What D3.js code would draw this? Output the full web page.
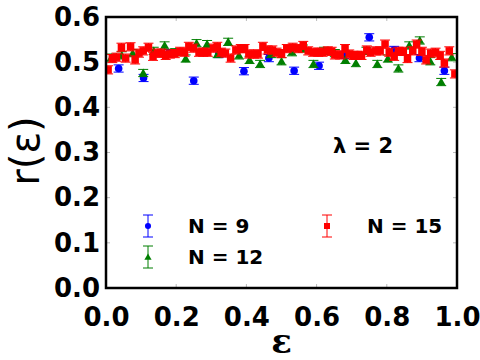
<!DOCTYPE html>
<html>
<head>
<meta charset="utf-8">
<script src="https://cdn.jsdelivr.net/npm/d3@7"></script>
<style>
  body { margin: 0; background: #fff; }
  svg { display: block; }
</style>
</head>
<body>
<div id="chart"></div>
<script>
'use strict';

// N = 9 (blue circles)
const epsN9 = [0.036, 0.107, 0.179, 0.250, 0.321, 0.393, 0.464, 0.536, 0.607, 0.679, 0.750, 0.821, 0.893, 0.964];
const rN9   = [0.486, 0.465, 0.520, 0.459, 0.518, 0.480, 0.509, 0.481, 0.492, 0.516, 0.555, 0.527, 0.509, 0.481];

// N = 12 (green triangles)
const epsN12 = [0.015, 0.045, 0.076, 0.106, 0.136, 0.167, 0.197, 0.227, 0.258, 0.288, 0.318,
                0.348, 0.379, 0.409, 0.439, 0.470, 0.500, 0.530, 0.561, 0.591, 0.621, 0.652,
                0.682, 0.712, 0.742, 0.773, 0.803, 0.833, 0.864, 0.894, 0.924, 0.955, 0.985];
const rN12   = [0.510, 0.515, 0.520, 0.476, 0.525, 0.537, 0.522, 0.508, 0.542, 0.540, 0.518,
                0.545, 0.515, 0.505, 0.496, 0.518, 0.502, 0.522, 0.530, 0.496, 0.525, 0.520,
                0.505, 0.498, 0.525, 0.496, 0.508, 0.486, 0.537, 0.548, 0.502, 0.456, 0.511];

// N = 15 (red squares)
const epsN15 = [0.006, 0.018, 0.030, 0.044, 0.056, 0.070, 0.083, 0.094, 0.106, 0.121,
                0.134, 0.146, 0.158, 0.170, 0.182, 0.196, 0.211, 0.224, 0.236, 0.249,
                0.265, 0.277, 0.290, 0.306, 0.317, 0.328, 0.340, 0.355, 0.370, 0.384,
                0.395, 0.407, 0.422, 0.433, 0.447, 0.460, 0.474, 0.486, 0.500, 0.515,
                0.532, 0.548, 0.562, 0.576, 0.590, 0.605, 0.617, 0.632, 0.643, 0.652,
                0.667, 0.681, 0.693, 0.705, 0.716, 0.728, 0.743, 0.754, 0.769, 0.781,
                0.795, 0.807, 0.821, 0.833, 0.847, 0.859, 0.874, 0.885, 0.900, 0.912,
                0.925, 0.939, 0.952, 0.964, 0.978, 0.994];
const rN15   = [0.483, 0.508, 0.511, 0.533, 0.509, 0.534, 0.505, 0.520, 0.525, 0.533,
                0.513, 0.520, 0.520, 0.515, 0.518, 0.519, 0.524, 0.522, 0.535, 0.531,
                0.522, 0.522, 0.522, 0.531, 0.535, 0.522, 0.520, 0.509, 0.527, 0.530,
                0.530, 0.518, 0.518, 0.518, 0.535, 0.527, 0.527, 0.522, 0.519, 0.530,
                0.533, 0.530, 0.537, 0.525, 0.522, 0.522, 0.522, 0.525, 0.524, 0.516,
                0.516, 0.530, 0.518, 0.515, 0.515, 0.515, 0.527, 0.522, 0.525, 0.525,
                0.540, 0.522, 0.513, 0.524, 0.524, 0.508, 0.525, 0.540, 0.524, 0.505,
                0.520, 0.522, 0.515, 0.498, 0.525, 0.474];

const errN9 = 0.008;
const errN12 = 0.008;
const errN15 = 0.009;

const xTicks = [0.0, 0.2, 0.4, 0.6, 0.8, 1.0];
const yTicks = [0.0, 0.1, 0.2, 0.3, 0.4, 0.5, 0.6];
const seriesLabels = ["N = 9", "N = 12", "N = 15"];
const annotation = "λ = 2";

const width = 480, height = 360;
const margin = { top: 17, right: 23, bottom: 72, left: 106 };
const innerW = width - margin.left - margin.right;
const innerH = height - margin.top - margin.bottom;

const svg = d3.select("#chart").append("svg")
    .attr("width", width)
    .attr("height", height);

const chart = svg.append("g")
    .attr("transform", `translate(${margin.left},${margin.top})`);

const x = d3.scaleLinear().domain([0, 1]).range([0, innerW]);
const y = d3.scaleLinear().domain([0, 0.6]).range([innerH, 0]);

const font = "'DejaVu Sans', sans-serif";

// tick labels
chart.append("g")
    .attr("transform", `translate(0,${innerH})`)
    .call(d3.axisBottom(x).tickValues(xTicks).tickFormat(d3.format(".1f")).tickSize(0).tickPadding(20))
    .call(g => g.select(".domain").remove())
    .selectAll("text")
    .attr("font-family", font).attr("font-weight", "bold").attr("font-size", 26).attr("fill", "#000");

chart.append("g")
    .call(d3.axisLeft(y).tickValues(yTicks).tickFormat(d3.format(".1f")).tickSize(0).tickPadding(6))
    .call(g => g.select(".domain").remove())
    .selectAll("text")
    .attr("font-family", font).attr("font-weight", "bold").attr("font-size", 26).attr("fill", "#000");

// small grey inside ticks
const tickLayer = chart.append("g").attr("stroke", "#bbbbbb").attr("stroke-width", 1);
xTicks.forEach(t => {
    tickLayer.append("line").attr("x1", x(t)).attr("x2", x(t)).attr("y1", 0).attr("y2", 4);
    tickLayer.append("line").attr("x1", x(t)).attr("x2", x(t)).attr("y1", innerH).attr("y2", innerH - 4);
});
yTicks.forEach(t => {
    tickLayer.append("line").attr("x1", 0).attr("x2", 4).attr("y1", y(t)).attr("y2", y(t));
    tickLayer.append("line").attr("x1", innerW).attr("x2", innerW - 4).attr("y1", y(t)).attr("y2", y(t));
});

// clip for data
svg.append("defs").append("clipPath").attr("id", "plot-clip")
    .append("rect").attr("width", innerW).attr("height", innerH);

const dataLayer = chart.append("g").attr("clip-path", "url(#plot-clip)");

const series = [
    { eps: epsN9, r: rN9, err: errN9, color: "#0000ff", shape: "circle" },
    { eps: epsN12, r: rN12, err: errN12, color: "#007f00", shape: "triangle" },
    { eps: epsN15, r: rN15, err: errN15, color: "#ff0000", shape: "square" }
];

function drawMarker(g, shape, color, cx, cy, scale) {
    if (shape === "circle") {
        g.append("circle").attr("cx", cx).attr("cy", cy).attr("r", 3.8 * scale).attr("fill", color);
    } else if (shape === "square") {
        const s = 7.5 * scale;
        g.append("rect").attr("x", cx - s / 2).attr("y", cy - s / 2).attr("width", s).attr("height", s).attr("fill", color);
    } else {
        const s = 4.5 * scale;
        g.append("path")
            .attr("d", `M${cx},${cy - s} L${cx + s},${cy + s * 0.75} L${cx - s},${cy + s * 0.75} Z`)
            .attr("fill", color);
    }
}

function drawErrorBar(g, color, cx, yTop, yBot) {
    g.append("line").attr("x1", cx).attr("x2", cx).attr("y1", yTop).attr("y2", yBot)
        .attr("stroke", color).attr("stroke-width", 1);
    [yTop, yBot].forEach(yy => g.append("line")
        .attr("x1", cx - 5).attr("x2", cx + 5).attr("y1", yy).attr("y2", yy)
        .attr("stroke", color).attr("stroke-width", 1));
}

series.forEach(s => {
    const g = dataLayer.append("g");
    s.eps.forEach((e, i) => {
        drawErrorBar(g, s.color, x(e), y(s.r[i] + s.err), y(s.r[i] - s.err));
        drawMarker(g, s.shape, s.color, x(e), y(s.r[i]), 1);
    });
});

// frame
chart.append("rect")
    .attr("width", innerW).attr("height", innerH)
    .attr("fill", "none").attr("stroke", "#000").attr("stroke-width", 2.5);

// legend
const legendItems = [
    { label: seriesLabels[0], s: series[0], hx: 148, ty: 226 },
    { label: seriesLabels[1], s: series[1], hx: 148, ty: 257 },
    { label: seriesLabels[2], s: series[2], hx: 327, ty: 226 }
];
const legend = svg.append("g");
legendItems.forEach(it => {
    drawErrorBar(legend, it.s.color, it.hx, it.ty - 11, it.ty + 11);
    drawMarker(legend, it.s.shape, it.s.color, it.hx, it.ty, 0.8);
    legend.append("text")
        .attr("x", it.hx + 40).attr("y", it.ty + 7)
        .attr("font-family", font).attr("font-weight", "bold").attr("font-size", 20)
        .text(it.label);
});

// annotation
svg.append("text")
    .attr("x", 333).attr("y", 153)
    .attr("font-family", font).attr("font-weight", "bold").attr("font-size", 21)
    .text(annotation);

// axis labels
svg.append("text")
    .attr("transform", `translate(39,151) rotate(-90)`)
    .attr("text-anchor", "middle")
    .attr("font-family", font).attr("font-size", 40)
    .text("r(ε)");

svg.append("text")
    .attr("x", margin.left + innerW / 2).attr("y", 353)
    .attr("text-anchor", "middle")
    .attr("font-family", "'DejaVu Serif', serif").attr("font-weight", "bold").attr("font-size", 34)
    .text("ε");
</script>
</body>
</html>
